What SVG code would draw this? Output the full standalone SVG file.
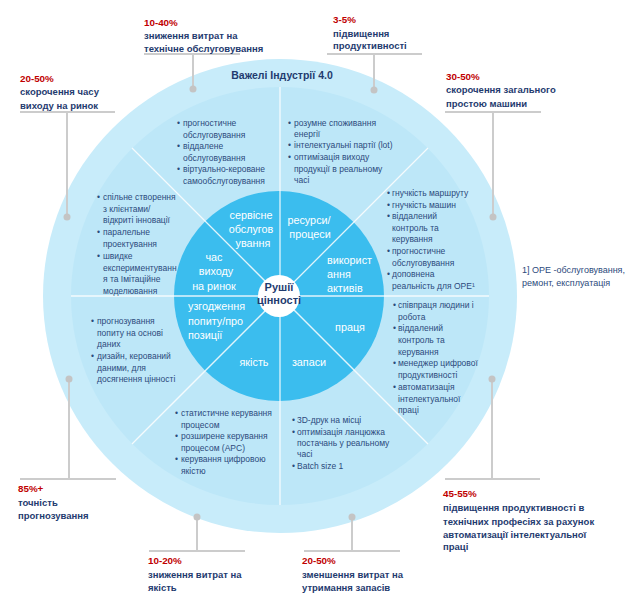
<svg xmlns="http://www.w3.org/2000/svg" width="642" height="600" viewBox="0 0 642 600">
<style>
text{font-family:"Liberation Sans",Arial,sans-serif}
.b{font-size:8.5px;fill:#2c4a7c}
.w{font-size:10.8px;fill:#ffffff}
.pct{font-size:9.8px;font-weight:bold;fill:#c00000}
.ann{font-size:9.5px;font-weight:bold;fill:#1f3b6f}
.ttl{font-size:10.5px;font-weight:bold;fill:#1f3b6f}
.ctr{font-size:11px;font-weight:bold;fill:#1f3b6f}
.cl{stroke:#ffffff;stroke-width:1.3;opacity:0.85}
.gl{stroke:#cccccc;stroke-width:2;fill:none}
.dot{fill:#c4c4c4}
.fn{font-size:9px;fill:#2c4a7c}
</style>
<rect width="642" height="600" fill="#ffffff"/>
<g id="rings">
<circle cx="280" cy="296" r="237" fill="#c8ecfa"/>
<circle cx="280" cy="296" r="209" fill="#bde7f8"/>
<circle cx="279" cy="296" r="105" fill="#3bbdee"/>
</g>
<g id="connectors">
<line class="cl" x1="280" y1="87" x2="280" y2="505"/>
<line class="cl" x1="71" y1="296" x2="489" y2="296"/>
<line class="cl" x1="132" y1="148" x2="428" y2="444"/>
<line class="cl" x1="428" y1="148" x2="132" y2="444"/>
<path class="gl" d="M144 54H240M193 54V89"/>
<circle class="dot" cx="193" cy="89" r="3.5"/>
<path class="gl" d="M20 112H115M67 112V217"/>
<circle class="dot" cx="67" cy="217" r="3.5"/>
<path class="gl" d="M327 54H422M374 54V90"/>
<circle class="dot" cx="374" cy="90" r="3.5"/>
<path class="gl" d="M445 112H541M493 112V217"/>
<circle class="dot" cx="493" cy="217" r="3.5"/>
<path class="gl" d="M20 479H116M69 479V379"/>
<circle class="dot" cx="69" cy="379" r="3.5"/>
<path class="gl" d="M149 551H245M197 551V517"/>
<circle class="dot" cx="197" cy="517" r="3.5"/>
<path class="gl" d="M304 551H400M352 551V517"/>
<circle class="dot" cx="352" cy="517" r="3.5"/>
<path class="gl" d="M445 479H540M492 479V379"/>
<circle class="dot" cx="492" cy="379" r="3.5"/>
</g>
<g id="title"><text class="ttl" x="282" y="79" text-anchor="middle">Важелі Індустрії 4.0</text></g>
<g id="center">
<circle cx="279" cy="296" r="21" fill="#ffffff"/>
<text class="ctr" x="279" y="291" text-anchor="middle">Рушії</text>
<text class="ctr" x="279" y="304" text-anchor="middle">цінності</text>
</g>
<g id="driver-service"><text class="w" text-anchor="middle"><tspan x="251" y="219">сервісне</tspan><tspan x="251" y="233">обслугов</tspan><tspan x="253" y="247">ування</tspan></text></g>
<g id="driver-resources"><text class="w" text-anchor="middle"><tspan x="309" y="224">ресурси/</tspan><tspan x="310" y="238">процеси</tspan></text></g>
<g id="driver-assets"><text class="w"><tspan x="327" y="264">використ</tspan><tspan x="327" y="278">ання</tspan><tspan x="327" y="292">активів</tspan></text></g>
<g id="driver-ttm"><text class="w" text-anchor="middle"><tspan x="214" y="261">час</tspan><tspan x="216" y="275">виходу</tspan><tspan x="214" y="290">на ринок</tspan></text></g>
<g id="driver-demand"><text class="w"><tspan x="188" y="310">узгодження</tspan><tspan x="188" y="325">попиту/про</tspan><tspan x="188" y="339">позиції</tspan></text></g>
<g id="driver-quality"><text class="w" x="254" y="366" text-anchor="middle">якість</text></g>
<g id="driver-inventory"><text class="w" x="309" y="366" text-anchor="middle">запаси</text></g>
<g id="driver-labor"><text class="w" x="350" y="331" text-anchor="middle">праця</text></g>
<g id="lever-service"><text class="b">
<tspan x="177" y="126">•</tspan><tspan x="183" y="126">прогностичне</tspan>
<tspan x="183" y="137.5">обслуговування</tspan>
<tspan x="177" y="149">•</tspan><tspan x="183" y="149">віддалене</tspan>
<tspan x="183" y="160.5">обслуговування</tspan>
<tspan x="177" y="172">•</tspan><tspan x="183" y="172">віртуально-кероване</tspan>
<tspan x="183" y="183.5">самообслуговування</tspan></text></g>
<g id="lever-resources"><text class="b">
<tspan x="288" y="126">•</tspan><tspan x="294" y="126">розумне споживання</tspan>
<tspan x="294" y="137">енергії</tspan>
<tspan x="288" y="148">•</tspan><tspan x="294" y="148">інтелектуальні партії (lot)</tspan>
<tspan x="288" y="160">•</tspan><tspan x="294" y="160">оптимізація виходу</tspan>
<tspan x="294" y="171.5">продукції в реальному</tspan>
<tspan x="294" y="183">часі</tspan></text></g>
<g id="lever-assets"><text class="b">
<tspan x="387" y="196">•</tspan><tspan x="392" y="196">гнучкість маршруту</tspan>
<tspan x="387" y="207.5">•</tspan><tspan x="392" y="207.5">гнучкість машин</tspan>
<tspan x="387" y="219">•</tspan><tspan x="392" y="219">віддалений</tspan>
<tspan x="392" y="230.5">контроль та</tspan>
<tspan x="392" y="242">керування</tspan>
<tspan x="387" y="254">•</tspan><tspan x="392" y="254">прогностичне</tspan>
<tspan x="392" y="265.5">обслуговування</tspan>
<tspan x="387" y="277">•</tspan><tspan x="392" y="277">доповнена</tspan>
<tspan x="392" y="289">реальність для ОРЕ¹</tspan></text></g>
<g id="lever-labor"><text class="b">
<tspan x="393" y="308">•</tspan><tspan x="398" y="308">співпраця людини і</tspan>
<tspan x="398" y="319.5">робота</tspan>
<tspan x="393" y="331">•</tspan><tspan x="398" y="331">віддалений</tspan>
<tspan x="398" y="343">контроль та</tspan>
<tspan x="398" y="354.5">керування</tspan>
<tspan x="393" y="366">•</tspan><tspan x="398" y="366">менеджер цифрової</tspan>
<tspan x="398" y="377.5">продуктивності</tspan>
<tspan x="393" y="390">•</tspan><tspan x="398" y="390">автоматизація</tspan>
<tspan x="398" y="401.5">інтелектуальної</tspan>
<tspan x="398" y="413">праці</tspan></text></g>
<g id="lever-inventory"><text class="b">
<tspan x="292" y="423">•</tspan><tspan x="297" y="423">3D-друк на місці</tspan>
<tspan x="292" y="435">•</tspan><tspan x="297" y="435">оптимізація ланцюжка</tspan>
<tspan x="297" y="446">постачань у реальному</tspan>
<tspan x="297" y="457">часі</tspan>
<tspan x="292" y="469">•</tspan><tspan x="297" y="469">Batch size 1</tspan></text></g>
<g id="lever-quality"><text class="b">
<tspan x="175" y="416">•</tspan><tspan x="181" y="416">статистичне керування</tspan>
<tspan x="181" y="427.5">процесом</tspan>
<tspan x="175" y="439">•</tspan><tspan x="181" y="439">розширене керування</tspan>
<tspan x="181" y="450.5">процесом (APC)</tspan>
<tspan x="175" y="462">•</tspan><tspan x="181" y="462">керування цифровою</tspan>
<tspan x="181" y="473.5">якістю</tspan></text></g>
<g id="lever-demand"><text class="b">
<tspan x="91" y="324">•</tspan><tspan x="97" y="324">прогнозування</tspan>
<tspan x="97" y="335.5">попиту на основі</tspan>
<tspan x="97" y="347">даних</tspan>
<tspan x="91" y="359">•</tspan><tspan x="97" y="359">дизайн, керований</tspan>
<tspan x="97" y="370.5">даними, для</tspan>
<tspan x="97" y="382">досягнення цінності</tspan></text></g>
<g id="lever-ttm"><text class="b">
<tspan x="97" y="200">•</tspan><tspan x="103" y="200">спільне створення</tspan>
<tspan x="103" y="212">з клієнтами/</tspan>
<tspan x="103" y="223">відкриті інновації</tspan>
<tspan x="97" y="235">•</tspan><tspan x="103" y="235">паралельне</tspan>
<tspan x="103" y="247">проектування</tspan>
<tspan x="97" y="259">•</tspan><tspan x="103" y="259">швидке</tspan>
<tspan x="103" y="270.5">експериментуванн</tspan>
<tspan x="103" y="282">я та Імітаційне</tspan>
<tspan x="103" y="293.5">моделювання</tspan></text></g>
<g id="ann-maint"><text class="pct" x="144" y="26">10-40%</text><text class="ann"><tspan x="144" y="39">зниження витрат на</tspan><tspan x="144" y="52">технічне обслуговування</tspan></text></g>
<g id="ann-ttm"><text class="pct" x="20" y="82">20-50%</text><text class="ann"><tspan x="20" y="95">скорочення часу</tspan><tspan x="20" y="109">виходу на ринок</tspan></text></g>
<g id="ann-prod"><text class="pct" x="333" y="23">3-5%</text><text class="ann"><tspan x="333" y="37">підвищення</tspan><tspan x="333" y="49">продуктивності</tspan></text></g>
<g id="ann-downtime"><text class="pct" x="446" y="80">30-50%</text><text class="ann"><tspan x="446" y="93">скорочення загального</tspan><tspan x="446" y="107">простою машини</tspan></text></g>
<g id="ann-forecast"><text class="pct" x="18" y="492">85%+</text><text class="ann"><tspan x="18" y="506">точність</tspan><tspan x="18" y="519">прогнозування</tspan></text></g>
<g id="ann-quality"><text class="pct" x="148" y="564">10-20%</text><text class="ann"><tspan x="148" y="578">зниження витрат на</tspan><tspan x="148" y="591">якість</tspan></text></g>
<g id="ann-inventory"><text class="pct" x="302" y="564">20-50%</text><text class="ann"><tspan x="302" y="578">зменшення витрат на</tspan><tspan x="302" y="591">утримання запасів</tspan></text></g>
<g id="ann-labor"><text class="pct" x="443" y="497">45-55%</text><text class="ann"><tspan x="443" y="511">підвищення продуктивності в</tspan><tspan x="443" y="525">технічних професіях за рахунок</tspan><tspan x="443" y="538">автоматизації інтелектуальної</tspan><tspan x="443" y="550">праці</tspan></text></g>
<g id="footnote"><text class="fn"><tspan x="522" y="273">1] ОРЕ -обслуговування,</tspan><tspan x="522" y="286">ремонт, експлуатація</tspan></text></g>
</svg>
